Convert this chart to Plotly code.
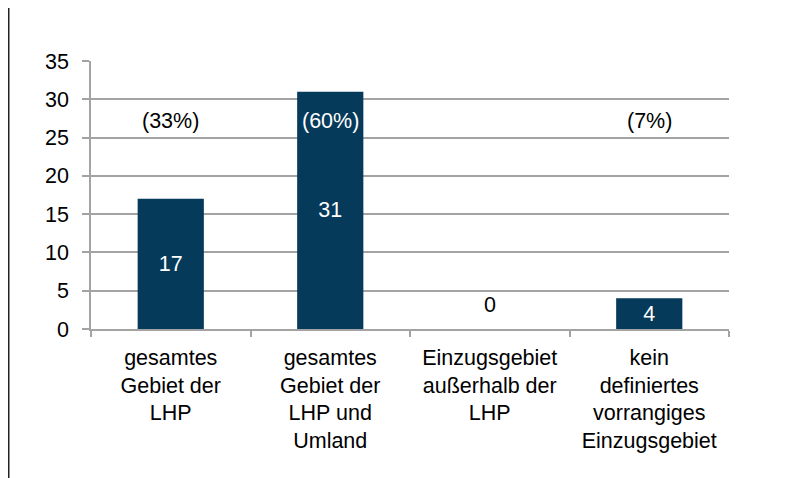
import plotly.graph_objects as go

categories = ["gesamtes<br>Gebiet der<br>LHP",
              "gesamtes<br>Gebiet der<br>LHP und<br>Umland",
              "Einzugsgebiet<br>außerhalb der<br>LHP",
              "kein<br>definiertes<br>vorrangiges<br>Einzugsgebiet"]
values = [17, 31, 0, 4]
percent_labels = ["(33%)", "(60%)", "", "(7%)"]
percent_y = 27.2
y_ticks = [0, 5, 10, 15, 20, 25, 30, 35]

BAR = "#053a5b"
GRID = "#a3a3a3"
FONT = "Liberation Sans, Arial, sans-serif"
FS = 21.5

fig = go.Figure()
fig.add_trace(go.Bar(
    x=categories, y=values,
    marker=dict(color=BAR, line=dict(width=0)),
    text=[str(v) if v > 0 else "" for v in values],
    textposition="inside",
    insidetextanchor="middle",
    textfont=dict(family=FONT, size=FS, color="white"),
    hoverinfo="skip",
))

# label for zero-height bars, sitting above the baseline
for c, v in zip(categories, values):
    if v == 0:
        fig.add_annotation(x=c, y=v, text=str(v), showarrow=False, yshift=24,
                           font=dict(family=FONT, size=FS, color="black"))

for c, lab, v in zip(categories, percent_labels, values):
    if lab:
        fig.add_annotation(x=c, y=percent_y, text=lab, showarrow=False,
                           font=dict(family=FONT, size=FS,
                                     color="white" if v > percent_y else "black"))

fig.add_shape(type="line", xref="paper", yref="paper",
              x0=-0.1290, x1=-0.1290, y0=1.3, y1=-0.6,
              line=dict(color="#222222", width=1.6))

fig.update_layout(
    width=781, height=470,
    margin=dict(l=83, r=60, t=53, b=149),
    paper_bgcolor="white", plot_bgcolor="white",
    bargap=0.585,
    showlegend=False,
    font=dict(family=FONT, size=FS, color="black"),
)
fig.update_xaxes(
    showline=True, linecolor=GRID, linewidth=1.5,
    ticks="outside", tickson="boundaries", ticklen=6, tickcolor=GRID, tickwidth=1.5,
    tickfont=dict(family=FONT, size=FS, color="black"),
    ticklabelstandoff=8,
    showgrid=False,
)
fig.update_yaxes(
    range=[0, 35], tickvals=y_ticks,
    showline=True, linecolor=GRID, linewidth=1.5,
    ticks="outside", ticklen=7, tickcolor=GRID, tickwidth=1.5,
    showgrid=True, gridcolor=GRID, gridwidth=1.5,
    zeroline=False,
    ticklabelstandoff=9,
    tickfont=dict(family=FONT, size=FS, color="black"),
)

fig.write_html("out.html")
